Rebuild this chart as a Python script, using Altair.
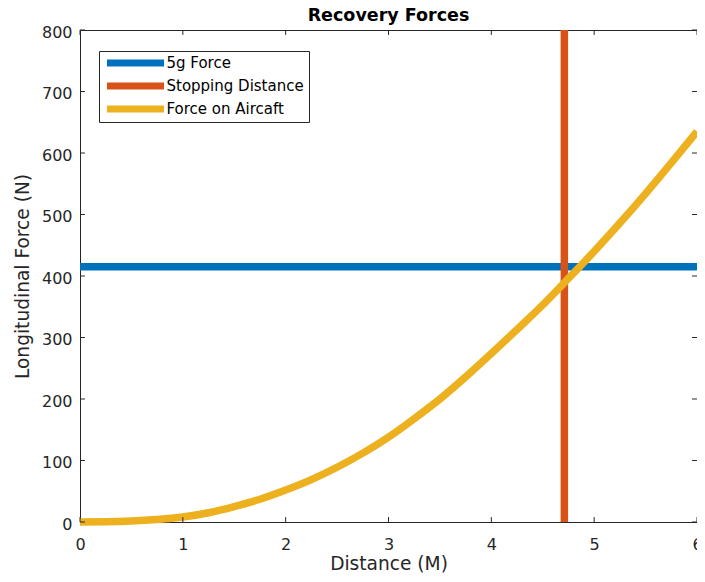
import altair as alt
import pandas as pd

# ---- data ----
series_names = ["5g Force", "Stopping Distance", "Force on Aircaft"]
series_colors = ["#0072BD", "#D95319", "#EDB120"]

force_5g = 415          # N, horizontal line
stop_distance = 4.71    # M, vertical line

distance = [0, 0.25, 0.5, 0.75, 1.0, 1.25, 1.5, 1.75, 2.0, 2.25, 2.5, 2.75, 3.0,
            3.25, 3.5, 3.75, 4.0, 4.25, 4.5, 4.75, 5.0, 5.25, 5.5, 5.75, 6.0]
force = [0, 0.3, 1.5, 4, 8, 15, 25, 37, 52, 69, 89, 112, 138,
         168, 200, 236, 274, 313, 353, 396, 440, 486, 534, 584, 635]

x_ticks = [0, 1, 2, 3, 4, 5, 6]
y_ticks = [0, 100, 200, 300, 400, 500, 600, 700, 800]

FONT = "DejaVu Sans"
AX = "#262626"

df_5g = pd.DataFrame({"x": [0, 6], "y": [force_5g, force_5g], "series": series_names[0]})
df_stop = pd.DataFrame({"x": [stop_distance, stop_distance], "y": [0, 800], "series": series_names[1]})
df_force = pd.DataFrame({"x": distance, "y": force, "series": series_names[2]})

xscale = alt.Scale(domain=[0, 6], nice=False, zero=False)
yscale = alt.Scale(domain=[0, 800], nice=False, zero=False)

xaxis = alt.Axis(values=x_ticks, format="d", ticks=False, domain=False, grid=False,
                 labelFontSize=16, labelFont=FONT, labelColor=AX, labelPadding=14.5,
                 title="Distance (M)", titleFont=FONT, titleFontSize=18.6,
                 titleFontWeight="normal", titleColor=AX, titlePadding=2, labelFlush=False)
yaxis = alt.Axis(values=y_ticks, format="d", ticks=False, domain=False, grid=False,
                 labelFontSize=16, labelFont=FONT, labelColor=AX, labelPadding=8, labelOffset=2,
                 title="Longitudinal Force (N)", titleFont=FONT, titleFontSize=18.6,
                 titleFontWeight="normal", titleColor=AX, titlePadding=9, labelFlush=False)

color = alt.Color(
    "series:N",
    scale=alt.Scale(domain=series_names, range=series_colors),
    legend=alt.Legend(
        title=None, orient="none", legendX=19, legendY=21,
        symbolType="M-2,0H26.5", symbolSize=16, symbolStrokeWidth=7,
        labelFontSize=15, labelFont=FONT, labelColor="black", labelOffset=48,
        padding=4.5, rowPadding=7, clipHeight=15, strokeColor=AX, fillColor="white",
    ),
)

def line(df):
    return alt.Chart(df).mark_line(strokeWidth=7.5, interpolate="monotone",
                                   strokeJoin="round").encode(
        x=alt.X("x:Q", scale=xscale, axis=xaxis),
        y=alt.Y("y:Q", scale=yscale, axis=yaxis),
        color=color,
    )

xt = pd.DataFrame({"v": x_ticks})
yt = pd.DataFrame({"v": y_ticks})
tick_style = dict(color=AX, strokeWidth=1)

ticks_bottom = alt.Chart(xt).mark_rule(**tick_style).encode(
    x=alt.X("v:Q", scale=xscale), y=alt.datum(0), y2=alt.datum(8))
ticks_top = alt.Chart(xt).mark_rule(**tick_style).encode(
    x=alt.X("v:Q", scale=xscale), y=alt.datum(792), y2=alt.datum(800))
ticks_left = alt.Chart(yt).mark_rule(**tick_style).encode(
    y=alt.Y("v:Q", scale=yscale), x=alt.datum(0), x2=alt.datum(0.048))
ticks_right = alt.Chart(yt).mark_rule(**tick_style).encode(
    y=alt.Y("v:Q", scale=yscale), x=alt.datum(5.952), x2=alt.datum(6))

chart = alt.layer(
    line(df_5g), line(df_stop), line(df_force),
    ticks_bottom, ticks_top, ticks_left, ticks_right,
).properties(
    width=617, height=492,
    title=alt.Title("Recovery Forces", font=FONT, fontSize=17.5, fontWeight="bold",
                    color="black", offset=2, dy=16.5, baseline="alphabetic", frame="group"),
    autosize=alt.AutoSizeParams(type="none"),
    padding={"left": 72, "top": 22, "right": 0, "bottom": 52},
).configure_view(stroke=AX, strokeWidth=1)

chart.save("out.html", embed_options={"renderer": "svg", "actions": False})
